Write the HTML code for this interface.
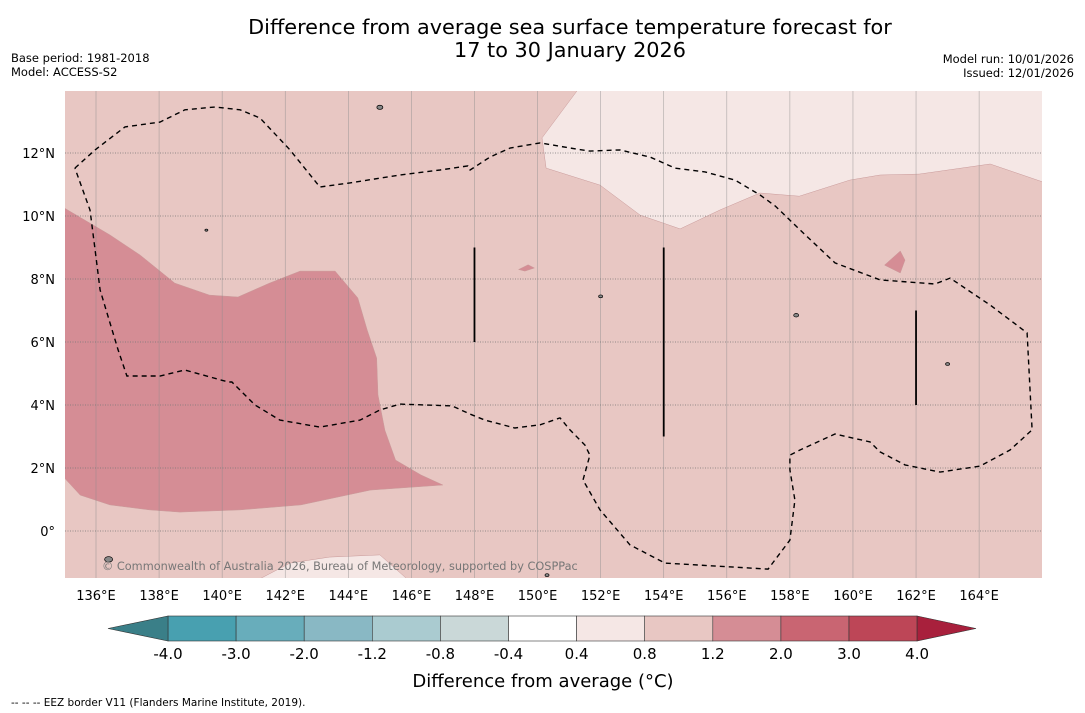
<!DOCTYPE html>
<html><head><meta charset="utf-8">
<style>
body{margin:0;background:#fff;width:1085px;height:713px;overflow:hidden;font-family:"DejaVu Sans","Liberation Sans",sans-serif;}
svg{display:block}
</style></head>
<body>
<svg id="chart" width="1085" height="713" font-family="DejaVu Sans, Liberation Sans, sans-serif">
<text x="570" y="34" font-size="20.8" text-anchor="middle">Difference from average sea surface temperature forecast for</text>
<text x="570" y="57" font-size="20.8" text-anchor="middle">17 to 30 January 2026</text>
<text x="11" y="62" font-size="11.5">Base period: 1981-2018</text>
<text x="11" y="76" font-size="11.5">Model: ACCESS-S2</text>
<text x="1074" y="63" font-size="11.5" text-anchor="end">Model run: 10/01/2026</text>
<text x="1074" y="77" font-size="11.5" text-anchor="end">Issued: 12/01/2026</text>
<defs><clipPath id="mapclip"><rect x="65" y="91" width="977" height="487"/></clipPath></defs>
<g id="map" clip-path="url(#mapclip)"></g>
<g id="axes"></g>
<g id="cbar"></g>
<text x="543" y="687" font-size="18" text-anchor="middle">Difference from average (°C)</text>
<text x="11" y="706" font-size="10.5">--  --  -- EEZ border V11 (Flanders Marine Institute, 2019).</text>
</svg>
<script>
// ---- data ----
const lonTicks = [136,138,140,142,144,146,148,150,152,154,156,158,160,162,164];
const latTicks = [0,2,4,6,8,10,12];
const levels = ["-4.0","-3.0","-2.0","-1.2","-0.8","-0.4","0.4","0.8","1.2","2.0","3.0","4.0"];
const levelColors = ["#48a0b0","#68adbb","#89b8c4","#aacbd0","#cad8d8","#ffffff","#f5e7e5","#e8c7c3","#d58d95","#c96572","#bd4657"];
const backgroundLevel = "#e8c7c3";
const warmRegion = [[135.0,10.25],[136.44,9.4],[137.4,8.76],[138.5,7.87],[139.6,7.49],[140.5,7.43],[141.5,7.87],[142.47,8.25],[143.58,8.25],[144.3,7.4],[144.6,6.38],[144.9,5.49],[144.94,4.32],[145.16,3.2],[145.5,2.25],[146.3,1.78],[147.0,1.46],[144.7,1.3],[142.5,0.83],[140.57,0.67],[138.66,0.6],[137.7,0.67],[136.44,0.83],[135.5,1.14],[135.0,1.68]];
const coolRegion = [[151.25,13.97],[150.14,12.48],[150.27,11.52],[151.98,10.98],[153.25,10.03],[154.52,9.59],[155.78,10.19],[157.05,10.73],[158.3,10.63],[159.9,11.14],[160.86,11.3],[162.1,11.33],[164.35,11.65],[166.2,11.02],[166.2,14.2],[151.25,14.2]];
const coolRegion2 = [[141.04,-1.6],[142.15,-1.02],[143.4,-0.83],[145.0,-0.76],[145.95,-1.6]];
const smallWarm = [[161.0,8.44],[161.5,8.89],[161.65,8.6],[161.5,8.19]];
const smallWarm2 = [[149.4,8.3],[149.7,8.45],[149.9,8.35],[149.6,8.25]];
const eezLine = [[135.33,11.52],[135.97,12.1],[136.92,12.83],[138.03,12.98],[138.82,13.37],[139.77,13.46],[140.57,13.37],[141.2,13.11],[142.15,12.1],[143.1,10.92],[144.05,11.05],[145.64,11.3],[146.91,11.46],[147.79,11.59],[147.86,11.46],[148.49,11.87],[149.13,12.16],[150.08,12.32],[151.03,12.16],[151.66,12.06],[152.61,12.1],[153.57,11.87],[154.36,11.52],[155.31,11.4],[156.26,11.14],[157.05,10.67],[157.53,10.32],[158.32,9.56],[159.43,8.51],[160.86,7.97],[162.6,7.84],[163.08,8.03],[164.35,7.17],[165.52,6.29],[165.68,3.21],[164.98,2.57],[164.03,2.06],[162.76,1.87],[161.65,2.1],[160.86,2.51],[160.54,2.83],[159.43,3.08],[158.32,2.57],[158.0,2.41],[158.0,1.94],[158.16,0.98],[158.0,-0.29],[157.31,-1.21],[154.04,-1.02],[152.93,-0.44],[151.98,0.67],[151.44,1.62],[151.66,2.41],[151.5,2.73],[151.03,3.21],[150.71,3.59],[150.08,3.37],[149.28,3.27],[148.33,3.52],[147.86,3.71],[147.29,3.97],[145.64,4.03],[145.0,3.84],[144.37,3.52],[143.1,3.3],[141.83,3.52],[141.04,4.0],[140.31,4.73],[140.19,4.73],[138.82,5.11],[138.03,4.92],[136.98,4.92],[136.7,5.75],[136.13,7.65],[135.97,8.92],[135.81,10.19],[135.33,11.52]];
const boundarySegs = [[148,9,6],[154,9,3],[162,7,4]];
const islands = [[145.0,13.45,3],[136.4,-0.9,4],[139.5,9.55,1.5],[152.0,7.45,2],[158.2,6.85,2.5],[163.0,5.3,2],[150.3,-1.4,2]];

// ---- scales ----
const x = lon => 96 + (lon-136)*31.54;
const y = lat => 531 - lat*31.5;
const NS="http://www.w3.org/2000/svg";
function mk(tag, attrs, parent){const e=document.createElementNS(NS,tag);for(const k in attrs)e.setAttribute(k,attrs[k]);parent.appendChild(e);return e;}
const pts = arr => arr.map(p=>x(p[0]).toFixed(1)+","+y(p[1]).toFixed(1)).join(" ");
const map=document.getElementById("map"), axes=document.getElementById("axes"), cbar=document.getElementById("cbar");

let bg=mk("rect",{x:65,y:91,width:977,height:487,fill:backgroundLevel},map);


[[warmRegion,levelColors[8],'warm-anomaly-region'],[coolRegion,levelColors[6],'cool-anomaly-region'],[coolRegion2,levelColors[6],'cool-anomaly-region-south'],[smallWarm,levelColors[8],'warm-anomaly-patch'],[smallWarm2,levelColors[8],'warm-anomaly-patch-small']].forEach(r=>{
  const p=mk("polygon",{points:pts(r[0]),fill:r[1],stroke:"#c99a9a","stroke-width":0.5},map);
  
  
});
lonTicks.forEach(l=>{
  const g=mk("line",{x1:x(l),x2:x(l),y1:91,y2:578,stroke:"#8c8c8c","stroke-width":0.6,opacity:0.7},map);
  
  
  const t=mk("text",{x:x(l),y:600,"font-size":13,"text-anchor":"middle"},axes);t.textContent=l+"°E";
  
  
});
latTicks.forEach(l=>{
  const g=mk("line",{x1:65,x2:1042,y1:y(l),y2:y(l),stroke:"#777","stroke-width":0.8,"stroke-dasharray":"1,1.5"},map);
  
  
  const t=mk("text",{x:55,y:y(l)+5,"font-size":13,"text-anchor":"end"},axes);t.textContent=l===0?"0°":l+"°N";
  
  
});
let eez=mk("polyline",{points:pts(eezLine),fill:"none",stroke:"#000","stroke-width":1.4,"stroke-dasharray":"5,4"},map);


boundarySegs.forEach(s=>{
  const l=mk("line",{x1:x(s[0]),x2:x(s[0]),y1:y(s[1]),y2:y(s[2]),stroke:"#000","stroke-width":1.8},map);
  
  
});
islands.forEach(i=>{
  const c=mk("ellipse",{cx:x(i[0]),cy:y(i[1]),rx:i[2],ry:i[2]*0.7,fill:"#888",stroke:"#000","stroke-width":0.7},map);
  
  
});
let cr=mk("text",{x:102,y:570,"font-size":11.3,fill:"#777"},map);
cr.textContent="© Commonwealth of Australia 2026, Bureau of Meteorology, supported by COSPPac";



// colorbar
const cbX0=168, cbW=68.1, cbY=616, cbH=25;
levelColors.forEach((c,i)=>{
  const r=mk("rect",{x:cbX0+i*cbW,y:cbY,width:cbW,height:cbH,fill:c,stroke:"#333","stroke-width":0.6},cbar);
  
  
});
let tl=mk("polygon",{points:`108,${cbY+cbH/2} ${cbX0},${cbY} ${cbX0},${cbY+cbH}`,fill:"#3a7f88",stroke:"#333","stroke-width":0.6},cbar);


const xe=cbX0+levelColors.length*cbW;
let tr=mk("polygon",{points:`${xe},${cbY} 976,${cbY+cbH/2} ${xe},${cbY+cbH}`,fill:"#a8203c",stroke:"#333","stroke-width":0.6},cbar);


levels.forEach((v,i)=>{
  const t=mk("text",{x:cbX0+i*cbW,y:659,"font-size":15,"text-anchor":"middle"},cbar);t.textContent=v;
  
  
});
</script>
</body></html>
